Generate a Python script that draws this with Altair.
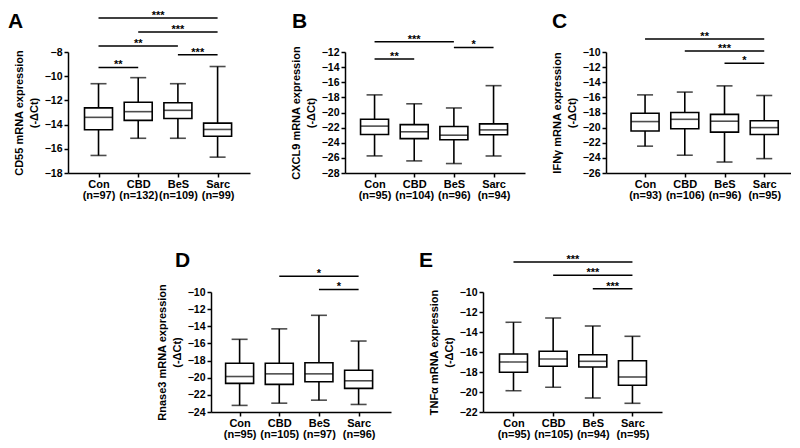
import json
import altair as alt
import pandas as pd

FONT = "Liberation Sans"
groups = ["Con", "CBD", "BeS", "Sarc"]
subtitle = "(-ΔCt)"

# ---------------- Panel A : CD55 ----------------
cd55_n = [97, 132, 109, 99]
cd55_min = [-16.55, -15.13, -15.13, -16.69]
cd55_q1 = [-14.43, -13.65, -13.49, -14.96]
cd55_med = [-13.40, -12.93, -12.82, -14.40]
cd55_q3 = [-12.62, -12.15, -12.20, -13.88]
cd55_max = [-10.62, -10.12, -10.62, -9.20]
cd55_sig_from = ["Con", "CBD", "Con", "BeS", "Con"]
cd55_sig_to = ["Sarc", "Sarc", "BeS", "Sarc", "CBD"]
cd55_sig_y = [-5.2, -6.35, -7.5, -8.22, -9.28]
cd55_sig_lab = ["***", "***", "**", "***", "**"]

# ---------------- Panel B : CXCL9 ----------------
cxcl9_n = [95, 104, 96, 94]
cxcl9_min = [-25.74, -26.40, -26.75, -25.75]
cxcl9_q1 = [-22.90, -23.45, -23.60, -22.95]
cxcl9_med = [-21.80, -22.55, -23.00, -22.30]
cxcl9_q3 = [-20.90, -21.60, -21.85, -21.50]
cxcl9_max = [-17.67, -18.85, -19.40, -16.45]
cxcl9_sig_from = ["Con", "BeS", "Con"]
cxcl9_sig_to = ["BeS", "Sarc", "CBD"]
cxcl9_sig_y = [-10.64, -11.4, -12.93]
cxcl9_sig_lab = ["***", "*", "**"]

# ---------------- Panel C : IFNγ ----------------
ifng_n = [93, 106, 96, 95]
ifng_min = [-22.45, -23.65, -24.55, -24.10]
ifng_q1 = [-20.45, -20.15, -20.60, -20.90]
ifng_med = [-19.20, -18.90, -19.15, -20.00]
ifng_q3 = [-18.10, -18.00, -18.25, -19.10]
ifng_max = [-15.67, -15.30, -14.48, -15.75]
ifng_sig_from = ["Con", "CBD", "BeS"]
ifng_sig_to = ["Sarc", "Sarc", "Sarc"]
ifng_sig_y = [-8.28, -9.87, -11.5]
ifng_sig_lab = ["**", "***", "*"]

# ---------------- Panel D : Rnase3 ----------------
rnase3_n = [95, 105, 97, 96]
rnase3_min = [-23.23, -22.97, -22.62, -23.12]
rnase3_q1 = [-20.66, -20.78, -20.47, -21.24]
rnase3_med = [-19.86, -19.55, -19.55, -20.36]
rnase3_q3 = [-18.32, -18.32, -18.25, -19.13]
rnase3_max = [-15.52, -14.30, -12.72, -15.72]
rnase3_sig_from = ["CBD", "BeS"]
rnase3_sig_to = ["Sarc", "Sarc"]
rnase3_sig_y = [-8.17, -9.7]
rnase3_sig_lab = ["*", "*"]

# ---------------- Panel E : TNFα ----------------
tnfa_n = [95, 105, 94, 95]
tnfa_min = [-19.87, -19.53, -20.60, -21.13]
tnfa_q1 = [-18.03, -17.43, -17.50, -19.33]
tnfa_med = [-17.00, -16.70, -16.93, -18.50]
tnfa_q3 = [-16.20, -15.93, -16.27, -16.87]
tnfa_max = [-13.03, -12.60, -13.40, -14.43]
tnfa_sig_from = ["Con", "CBD", "BeS"]
tnfa_sig_to = ["Sarc", "Sarc", "Sarc"]
tnfa_sig_y = [-7.0, -8.33, -9.67]
tnfa_sig_lab = ["***", "***", "***"]


def panel(letter, ytitle, n, mins, q1s, meds, q3s, maxs, ydom, sfrom, sto, sy, slab,
          left=26, right=28, height=121, letter_x=-60, letter_y=-41):
    step = 42
    idx = [1, 2, 3, 4]
    pos = dict(zip(groups, idx))
    df = pd.DataFrame({"i": idx, "g": groups, "n": n, "lo": mins, "q1": q1s,
                       "med": meds, "q3": q3s, "hi": maxs})
    sig = pd.DataFrame({"a": [pos[s] for s in sfrom], "b": [pos[s] for s in sto],
                        "y": sy, "lab": slab})
    sig["m"] = (sig["a"] + sig["b"]) / 2
    width = left + 3 * step + right
    xdom = [1 - left / step, 4 + right / step]

    expr = "''"
    for k in reversed(idx):
        lines = json.dumps([groups[k - 1], f"(n={n[k - 1]})"])
        expr = f"datum.value == {k} ? {lines} : ({expr})"

    xscale = alt.Scale(domain=xdom, nice=False, zero=False)
    yscale = alt.Scale(domain=ydom, nice=False, zero=False)
    xaxis = alt.Axis(values=idx, labelExpr=expr, title=None, grid=False,
                     labelOverlap=False, labelFlush=False, labelBound=False,
                     labelPadding=1, labelLineHeight=11.5, labelAngle=0, labelFontSize=11)
    yaxis = alt.Axis(values=list(range(ydom[0], ydom[1] + 1, 2)), title=[ytitle, subtitle],
                     grid=False, labelOverlap=False, labelFlush=False, titlePadding=5,
                     titleLineHeight=15, labelPadding=2, labelFontSize=10.5)

    X = lambda f: alt.X(f, scale=xscale, axis=xaxis)
    Y = lambda f: alt.Y(f, scale=yscale, axis=yaxis)
    sw = 1.6

    base = alt.Chart(df)
    whisk = base.mark_rule(color="black", strokeWidth=sw).encode(
        x=X("i:Q"), y=Y("lo:Q"), y2="hi:Q")
    cap_lo = base.mark_tick(orient="horizontal", color="black", size=16, thickness=sw).encode(
        x=X("i:Q"), y=Y("lo:Q"))
    cap_hi = base.mark_tick(orient="horizontal", color="black", size=16, thickness=sw).encode(
        x=X("i:Q"), y=Y("hi:Q"))
    box = base.mark_bar(size=28, fill="white", stroke="black", strokeWidth=sw).encode(
        x=X("i:Q"), y=Y("q1:Q"), y2="q3:Q")
    med = base.mark_tick(orient="horizontal", color="black", size=28, thickness=sw).encode(
        x=X("i:Q"), y=Y("med:Q"))

    sbase = alt.Chart(sig)
    srule = sbase.mark_rule(color="black", strokeWidth=1.5).encode(
        x=X("a:Q"), x2="b:Q", y=Y("y:Q"))
    stext = sbase.mark_text(font=FONT, fontWeight="bold", fontSize=11, baseline="alphabetic",
                            dy=1, color="black").encode(
        x=X("m:Q"), y=Y("y:Q"), text="lab:N")

    tag = alt.Chart(pd.DataFrame({"t": [letter]})).mark_text(
        font=FONT, fontWeight="bold", fontSize=21, align="left", baseline="top",
        color="black").encode(x=alt.value(letter_x), y=alt.value(letter_y), text="t:N")

    return alt.layer(whisk, cap_lo, cap_hi, box, med, srule, stext, tag).properties(
        width=width, height=height)


A = panel("A", "CD55 mRNA expression", cd55_n, cd55_min, cd55_q1, cd55_med, cd55_q3, cd55_max,
          [-18, -8], cd55_sig_from, cd55_sig_to, cd55_sig_y, cd55_sig_lab,
          left=27, right=29, letter_x=-60, letter_y=-41)
B = panel("B", "CXCL9 mRNA expression", cxcl9_n, cxcl9_min, cxcl9_q1, cxcl9_med, cxcl9_q3,
          cxcl9_max, [-28, -12], cxcl9_sig_from, cxcl9_sig_to, cxcl9_sig_y, cxcl9_sig_lab,
          left=26, right=28, letter_x=-53, letter_y=-41)
C = panel("C", "IFNγ mRNA expression", ifng_n, ifng_min, ifng_q1, ifng_med, ifng_q3, ifng_max,
          [-26, -10], ifng_sig_from, ifng_sig_to, ifng_sig_y, ifng_sig_lab,
          left=36, right=23, letter_x=-54, letter_y=-41)
D = panel("D", "Rnase3 mRNA expression", rnase3_n, rnase3_min, rnase3_q1, rnase3_med,
          rnase3_q3, rnase3_max, [-24, -10], rnase3_sig_from, rnase3_sig_to, rnase3_sig_y,
          rnase3_sig_lab, left=25, right=29, height=120, letter_x=-36, letter_y=-42)
E = panel("E", "TNFα mRNA expression", tnfa_n, tnfa_min, tnfa_q1, tnfa_med, tnfa_q3, tnfa_max,
          [-22, -10], tnfa_sig_from, tnfa_sig_to, tnfa_sig_y, tnfa_sig_lab,
          left=27, right=26, height=120, letter_x=-64, letter_y=-42)

spacer = alt.Chart(pd.DataFrame({"s": [0]})).mark_point(opacity=0).encode(
    x=alt.X("s:Q", axis=None), y=alt.Y("s:Q", axis=None)).properties(width=51, height=120)

row1 = alt.hconcat(A, alt.hconcat(B, C, spacing=81, bounds="flush"), spacing=95, bounds="flush")
row2 = alt.hconcat(spacer, D, E, spacing=92, bounds="flush")

# nested rows count as zero height with flush bounds: spacing = distance between row tops
chart = alt.vconcat(row1, row2, spacing=240, bounds="flush").properties(
    padding={"left": 0, "top": 2, "right": 0, "bottom": 0}
).configure_view(stroke=None).configure_axis(
    domainColor="black", domainWidth=1.5, tickColor="black", tickWidth=1.5, tickSize=4,
    labelFont=FONT, labelFontWeight="bold", labelColor="black",
    titleFont=FONT, titleFontWeight="bold", titleFontSize=11, titleColor="black"
)

chart.save("out.html", embed_options={"renderer": "svg", "actions": False})
